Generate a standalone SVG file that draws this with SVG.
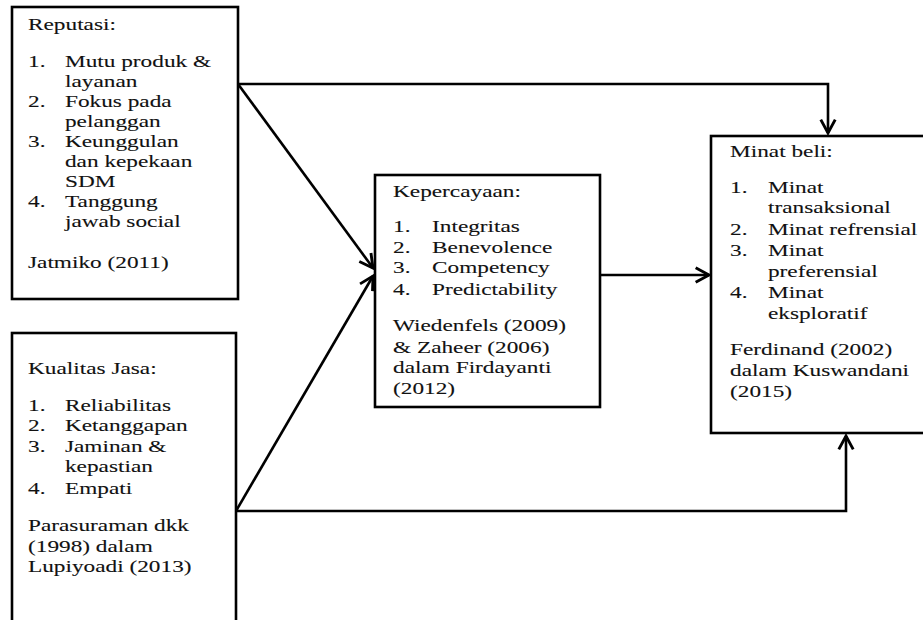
<svg xmlns="http://www.w3.org/2000/svg" width="923" height="620" viewBox="0 0 923 620">
<defs>
<style>
.box{fill:#fff;stroke:#000;stroke-width:2.6}
.con{fill:none;stroke:#000;stroke-width:2.6}
text{font-family:"Liberation Serif","Times New Roman",serif;font-size:17px;fill:#111;stroke:#111;stroke-width:0.1}
</style>
<marker id="ah" markerUnits="userSpaceOnUse" markerWidth="20" markerHeight="20" viewBox="-2 -9 16 18" refX="12" refY="0" orient="auto">
<path d="M0,-6.5 L12,0 L0,6.5" fill="none" stroke="#000" stroke-width="2.6" stroke-linejoin="miter"/>
</marker>
</defs>
<rect width="923" height="620" fill="#fff"/>
<g id="connectors">
<path class="con" d="M238,84 H828 V133" marker-end="url(#ah)"/>
<path class="con" d="M238,84 L373,268" marker-end="url(#ah)"/>
<path class="con" d="M236,511 L373,276" marker-end="url(#ah)"/>
<path class="con" d="M236,511 H846 V436" marker-end="url(#ah)"/>
<path class="con" d="M600,275 H709" marker-end="url(#ah)"/>
</g>
<g id="reputasi">
<rect class="box" x="12" y="7" width="226" height="292"/>
<g transform="translate(28 0) scale(1.37 1)">
<text x="0" y="30">Reputasi:</text>
<text x="0" y="67">1.</text><text x="27" y="67">Mutu produk &amp;</text>
<text x="27" y="87">layanan</text>
<text x="0" y="107">2.</text><text x="27" y="107">Fokus pada</text>
<text x="27" y="127">pelanggan</text>
<text x="0" y="147">3.</text><text x="27" y="147">Keunggulan</text>
<text x="27" y="167">dan kepekaan</text>
<text x="27" y="187">SDM</text>
<text x="0" y="207">4.</text><text x="27" y="207">Tanggung</text>
<text x="27" y="227">jawab social</text>
<text x="0" y="268">Jatmiko (2011)</text>
</g>
</g>
<g id="kualitas-jasa">
<rect class="box" x="12" y="333" width="224" height="300"/>
<g transform="translate(28 0) scale(1.37 1)">
<text x="0" y="374">Kualitas Jasa:</text>
<text x="0" y="411">1.</text><text x="27" y="411">Reliabilitas</text>
<text x="0" y="431">2.</text><text x="27" y="431">Ketanggapan</text>
<text x="0" y="452">3.</text><text x="27" y="452">Jaminan &amp;</text>
<text x="27" y="472">kepastian</text>
<text x="0" y="494">4.</text><text x="27" y="494">Empati</text>
<text x="0" y="531">Parasuraman dkk</text>
<text x="0" y="552">(1998) dalam</text>
<text x="0" y="572">Lupiyoadi (2013)</text>
</g>
</g>
<g id="kepercayaan">
<rect class="box" x="375" y="175" width="225" height="232"/>
<g transform="translate(393 0) scale(1.37 1)">
<text x="0" y="197">Kepercayaan:</text>
<text x="0" y="232">1.</text><text x="28.5" y="232">Integritas</text>
<text x="0" y="253">2.</text><text x="28.5" y="253">Benevolence</text>
<text x="0" y="273">3.</text><text x="28.5" y="273">Competency</text>
<text x="0" y="295">4.</text><text x="28.5" y="295">Predictability</text>
<text x="0" y="331">Wiedenfels (2009)</text>
<text x="0" y="353">&amp; Zaheer (2006)</text>
<text x="0" y="373">dalam Firdayanti</text>
<text x="0" y="394">(2012)</text>
</g>
</g>
<g id="minat-beli">
<rect class="box" x="711" y="136" width="220" height="297"/>
<g transform="translate(730 0) scale(1.37 1)">
<text x="0" y="157">Minat beli:</text>
<text x="0" y="193">1.</text><text x="27.7" y="193">Minat</text>
<text x="27.7" y="213">transaksional</text>
<text x="0" y="235">2.</text><text x="27.7" y="235">Minat refrensial</text>
<text x="0" y="256">3.</text><text x="27.7" y="256">Minat</text>
<text x="27.7" y="277">preferensial</text>
<text x="0" y="298">4.</text><text x="27.7" y="298">Minat</text>
<text x="27.7" y="319">eksploratif</text>
<text x="0" y="355">Ferdinand (2002)</text>
<text x="0" y="376">dalam Kuswandani</text>
<text x="0" y="397">(2015)</text>
</g>
</g>
</svg>
